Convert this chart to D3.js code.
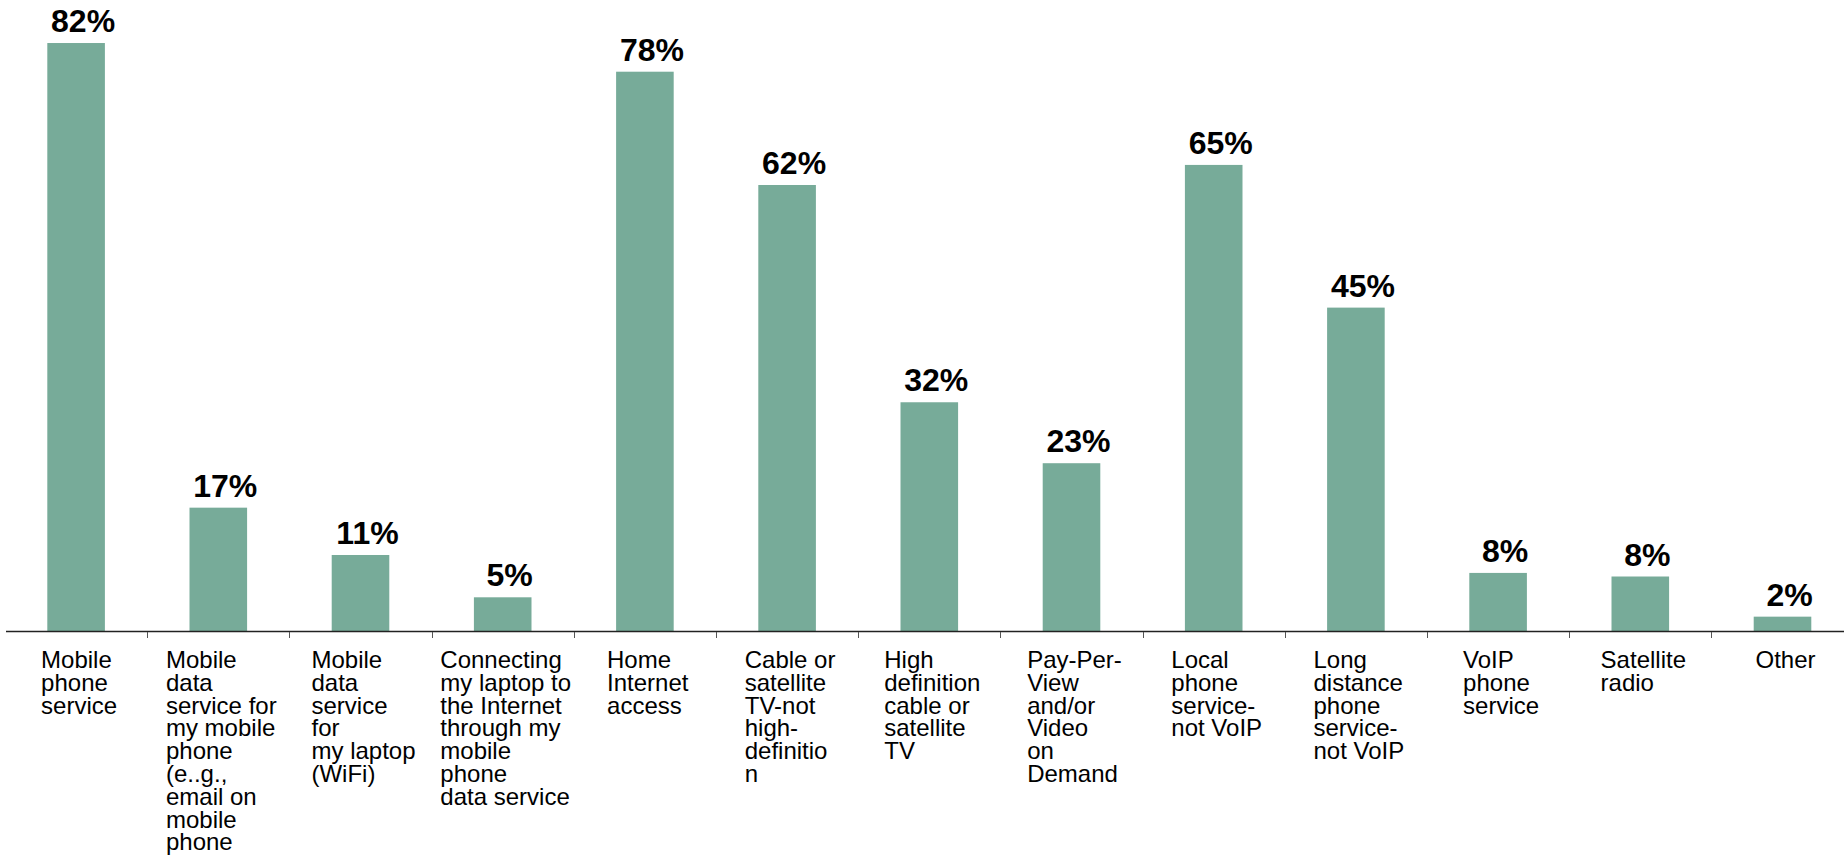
<!DOCTYPE html>
<html>
<head>
<meta charset="utf-8">
<script src="https://cdn.jsdelivr.net/npm/d3@7"></script>
<style>
  html, body { margin: 0; padding: 0; background: #fff; }
  svg { display: block; font-family: "Liberation Sans", Arial, sans-serif; }
</style>
</head>
<body>
<svg id="chart" width="1844" height="857"></svg>
<script>
// Services used (share of respondents)
const categories = [
  "Mobile\nphone\nservice",
  "Mobile\ndata\nservice for\nmy mobile\nphone\n(e..g.,\nemail on\nmobile\nphone",
  "Mobile\ndata\nservice\nfor\nmy laptop\n(WiFi)",
  "Connecting\nmy laptop to\nthe Internet\nthrough my\nmobile\nphone\ndata service",
  "Home\nInternet\naccess",
  "Cable or\nsatellite\nTV-not\nhigh-\ndefinitio\nn",
  "High\ndefinition\ncable or\nsatellite\nTV",
  "Pay-Per-\nView\nand/or\nVideo\non\nDemand",
  "Local\nphone\nservice-\nnot VoIP",
  "Long\ndistance\nphone\nservice-\nnot VoIP",
  "VoIP\nphone\nservice",
  "Satellite\nradio",
  "Other"
];
const values = [82, 17.2, 10.6, 4.7, 78, 62.2, 31.9, 23.4, 65, 45.1, 8.1, 7.6, 2];

const W = 1844, H = 857;
const baseY = 631;          // baseline of the bars
const left = 5, step = 142.2;
const barColor = "#77ab99";

const svg = d3.select("#chart");

const x = d3.scaleBand()
  .domain(d3.range(categories.length))
  .range([left, left + step * categories.length])
  .padding(0);

const y = d3.scaleLinear().domain([0, 88]).range([baseY, 0]);

const barW = x.bandwidth() * 0.405;

// bars
svg.append("g").selectAll("rect")
  .data(values)
  .join("rect")
  .attr("x", (d, i) => x(i) + (x.bandwidth() - barW) / 2)
  .attr("y", d => y(d))
  .attr("width", barW)
  .attr("height", d => y(0) - y(d))
  .attr("fill", barColor);

// value labels
svg.append("g").selectAll("text")
  .data(values)
  .join("text")
  .attr("x", (d, i) => x(i) + x.bandwidth() / 2 + 7)
  .attr("y", d => y(d) - 11)
  .attr("text-anchor", "middle")
  .attr("font-size", 32)
  .attr("font-weight", "bold")
  .attr("fill", "#000")
  .text(d => Math.round(d) + "%");

// category axis
const axis = svg.append("g");
axis.append("line")
  .attr("x1", x(0) + 1).attr("x2", W)
  .attr("y1", y(0) + 0.5).attr("y2", y(0) + 0.5)
  .attr("stroke", "#222").attr("stroke-width", 1.5);

axis.selectAll("line.tick")
  .data(d3.range(1, categories.length))
  .join("line")
  .attr("class", "tick")
  .attr("x1", i => Math.round(x(i)) + 0.5)
  .attr("x2", i => Math.round(x(i)) + 0.5)
  .attr("y1", y(0) + 1)
  .attr("y2", y(0) + 7)
  .attr("stroke", "#555").attr("stroke-width", 1);

// wrapped category labels: lines left-aligned, block centred under the bar
const lineH = 22.8;
const labels = axis.selectAll("text.cat")
  .data(categories)
  .join("text")
  .attr("class", "cat")
  .attr("font-size", 24)
  .attr("fill", "#000")
  .attr("y", y(0) + 37);

labels.each(function(d) {
  const t = d3.select(this);
  d.split("\n").forEach((line, k) => {
    t.append("tspan")
      .attr("x", 0)
      .attr("dy", k === 0 ? 0 : lineH)
      .text(line);
  });
});

labels.attr("transform", function(d, i) {
  const w = this.getBBox().width;
  return `translate(${x(i) + x.bandwidth() / 2 - w / 2 + 3},0)`;
});
</script>
</body>
</html>
